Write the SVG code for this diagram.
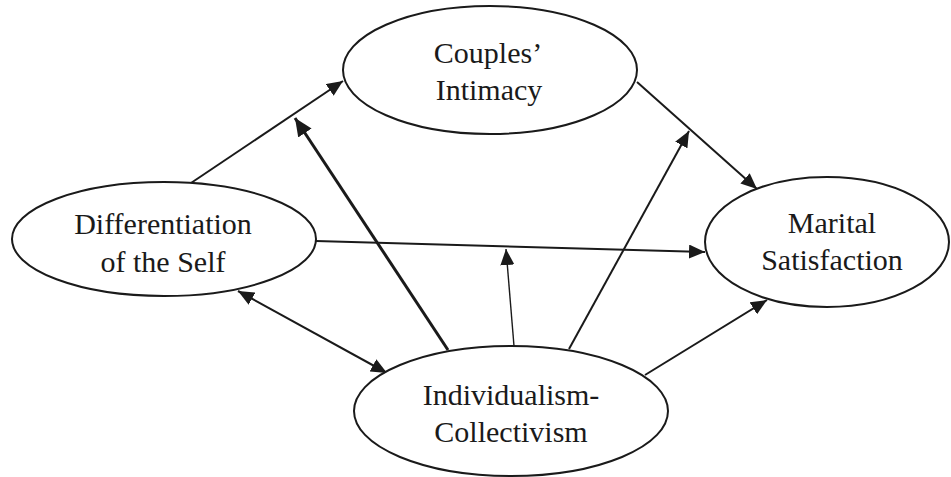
<svg xmlns="http://www.w3.org/2000/svg" width="951" height="477" viewBox="0 0 951 477">
<style>
.node ellipse{fill:#fff;stroke:#1a1a1a;stroke-width:2}
.node text{font-family:"Liberation Serif","Times New Roman",serif;font-size:30px;fill:#1a1a1a;text-anchor:middle}
.c{stroke:#1a1a1a;stroke-width:2;fill:none}
.thick{stroke-width:3}
.thin{stroke-width:1.4}
</style>
<defs>
<marker id="ah" viewBox="0 0 16 14" refX="16" refY="7" markerWidth="16" markerHeight="14" markerUnits="userSpaceOnUse" orient="auto-start-reverse">
<path d="M0,0 L16,7 L0,14 z" fill="#1a1a1a"/>
</marker>
<marker id="ahb" viewBox="0 0 18 16" refX="18" refY="8" markerWidth="18" markerHeight="16" markerUnits="userSpaceOnUse" orient="auto">
<path d="M0,0 L18,8 L0,16 z" fill="#1a1a1a"/>
</marker>
</defs>
<rect width="951" height="477" fill="#fff"/>
<g id="connectors">
<line class="c" x1="191" y1="183" x2="343" y2="81" marker-end="url(#ah)"/>
<line class="c thick" x1="448" y1="350" x2="295" y2="118" marker-end="url(#ahb)"/>
<line class="c" x1="637" y1="82" x2="757" y2="189" marker-end="url(#ah)"/>
<line class="c" x1="316" y1="241" x2="705" y2="252" marker-end="url(#ah)"/>
<line class="c thin" x1="514" y1="346" x2="506" y2="249" marker-end="url(#ah)"/>
<line class="c" x1="569" y1="349" x2="689" y2="131" marker-end="url(#ah)"/>
<line class="c" x1="645" y1="375" x2="767" y2="300" marker-end="url(#ah)"/>
<line class="c" x1="238" y1="291" x2="387" y2="373" marker-start="url(#ah)" marker-end="url(#ah)"/>
</g>
<g id="couples-intimacy" class="node">
<ellipse cx="490" cy="70" rx="147" ry="64"/>
<text x="488" y="63">Couples’</text>
<text x="489" y="100">Intimacy</text>
</g>
<g id="differentiation" class="node">
<ellipse cx="164" cy="239" rx="152" ry="57"/>
<text x="163" y="234">Differentiation</text>
<text x="163" y="272">of the Self</text>
</g>
<g id="marital-satisfaction" class="node">
<ellipse cx="827" cy="242" rx="122" ry="65"/>
<text x="832" y="233">Marital</text>
<text x="832" y="270">Satisfaction</text>
</g>
<g id="individualism-collectivism" class="node">
<ellipse cx="511" cy="411" rx="157" ry="65"/>
<text x="511" y="405">Individualism-</text>
<text x="511" y="442">Collectivism</text>
</g>
</svg>
